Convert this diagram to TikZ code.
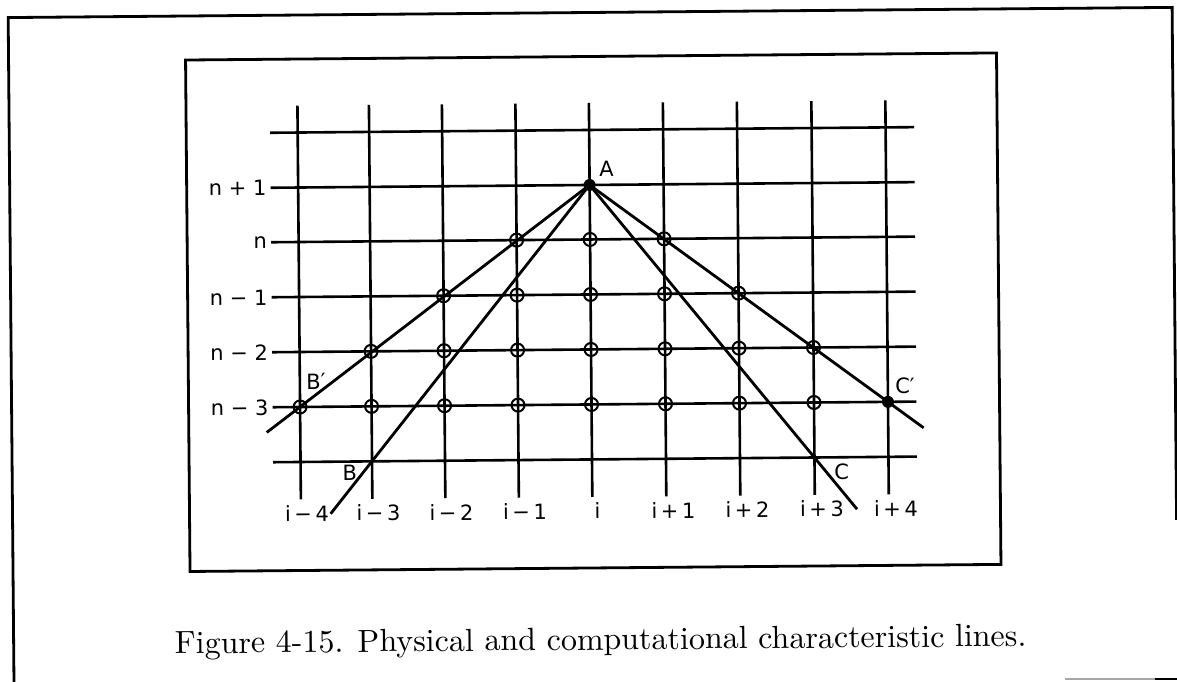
\documentclass[tikz,border=0pt]{standalone}
\usepackage{fontspec}
\newfontfamily\lblfont{DejaVu Sans}
\usetikzlibrary{calc}
\begin{document}
\begin{tikzpicture}[x=1pt,y=-1pt,
  gridline/.style={line width=2.6pt},
  framebox/.style={line width=2.8pt},
  charline/.style={line width=2.8pt},
  gp/.style={circle,draw,line width=2pt,minimum size=13pt,inner sep=0pt},
  fdot/.style={circle,fill,minimum size=12pt,inner sep=0pt},
  lbl/.style={font=\lblfont\fontsize{21}{25}\selectfont,inner sep=0pt},
]
\useasboundingbox (0,0) rectangle (1177,681);
\begin{scope}[rotate around={0.5:(588,340)},transform shape]
  % frames
  \draw[framebox] (11,700) -- (11,12.5) -- (1175,12.5) -- (1175,525);
  \draw[framebox] (188,56.5) rectangle (999,568);
  % columns and rows
  \foreach \k/\x in {-4/299.5,-3/371,-2/444,-1/517.5,0/591,1/665,2/739,3/813.5,4/887.5}{
    \coordinate (col\k) at (\x,0);
    \coordinate (vt\k) at (\x,103);
    \coordinate (vb\k) at (\x,497);
    \draw[gridline] (vt\k) -- (vb\k);
  }
  \foreach \r/\y in {t/130,1/185,0/239.5,m1/294.5,m2/349.5,m3/404.5,b/459.5}{
    \coordinate (row\r) at (0,\y);
    \coordinate (hl\r) at (272,\y);
    \coordinate (hr\r) at (916,\y);
    \draw[gridline] (hl\r) -- (hr\r);
  }
  % grid point circles
  \foreach \k in {-1,0,1} \node[gp] (g\k-0) at (col\k |- row0) {};
  \foreach \k in {-2,...,2} \node[gp] (g\k-m1) at (col\k |- rowm1) {};
  \foreach \k in {-3,...,3} \node[gp] (g\k-m2) at (col\k |- rowm2) {};
  \foreach \k in {-4,...,3} \node[gp] (g\k-m3) at (col\k |- rowm3) {};
  \node[fdot] (Cp) at (col4 |- rowm3) {};
  \node[fdot] (A) at (col0 |- row1) {};
  \coordinate (B) at (col-3 |- rowb);
  \coordinate (C) at (col3 |- rowb);
  % characteristic lines
  \coordinate (Bpend) at ($(A.center)!1.115!(g-4-m3.center)$);
  \coordinate (Cpend) at ($(A.center)!1.12!(Cp.center)$);
  \coordinate (Bend) at ($(A.center)!1.19!(B)$);
  \coordinate (Cend) at ($(A.center)!1.19!(C)$);
  \draw[charline] (A.center) -- (Bpend);
  \draw[charline] (A.center) -- (Cpend);
  \draw[charline] (A.center) -- (Bend);
  \draw[charline] (A.center) -- (Cend);
  % point labels
  \node[lbl] (lA) at (608,169) {A};
  \node[lbl] (lBp) at (315.5,379) {B′};
  \node[lbl] (lB) at (348.5,470.5) {B};
  \node[lbl] (lCp) at (904.5,388.5) {C′};
  \node[lbl] (lC) at (840.5,474) {C};
  % row labels
  \node[lbl,anchor=east] (rn1) at (268,185) {n + 1};
  \node[lbl,anchor=east] (rn0) at (268,239.5) {n};
  \node[lbl,anchor=east] (rnm1) at (268,294.5) {n − 1};
  \node[lbl,anchor=east] (rnm2) at (268,349.5) {n − 2};
  \node[lbl,anchor=east] (rnm3) at (268,404.5) {n − 3};
  % column labels
  \node[lbl] (ci-4) at ($(col-4 |- 0,511)+(6,0)$) {i\,−\,4};
  \node[lbl] (ci-3) at ($(col-3 |- 0,511)+(6,0)$) {i\,−\,3};
  \node[lbl] (ci-2) at ($(col-2 |- 0,511)+(6,0)$) {i\,−\,2};
  \node[lbl] (ci-1) at ($(col-1 |- 0,511)+(6,0)$) {i\,−\,1};
  \node[lbl] (ci0) at ($(col0 |- 0,511)+(5,0)$) {i};
  \node[lbl] (ci1) at ($(col1 |- 0,511)+(7,0)$) {i\,+\,1};
  \node[lbl] (ci2) at ($(col2 |- 0,511)+(7,0)$) {i\,+\,2};
  \node[lbl] (ci3) at ($(col3 |- 0,511)+(7,0)$) {i\,+\,3};
  \node[lbl] (ci4) at ($(col4 |- 0,511)+(7,0)$) {i\,+\,4};
  % caption
  \node[scale=3.2,font=\fontsize{10}{12}\selectfont,anchor=base,inner sep=0pt] (cap) at (598,650)
    {Figure 4-15. Physical and computational characteristic lines.};
\end{scope}
\draw[line width=1.5pt,black!35] (1065,679) -- (1155,679);
\draw[line width=2pt] (1155,679) -- (1177,679);
\end{tikzpicture}
\end{document}
